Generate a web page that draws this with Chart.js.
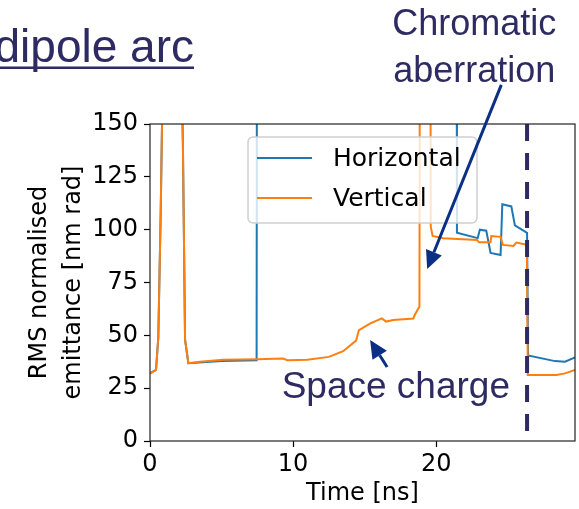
<!DOCTYPE html>
<html>
<head>
<meta charset="utf-8">
<script src="https://cdn.jsdelivr.net/npm/chart.js@4.4.1/dist/chart.umd.min.js"></script>
<style>
  html, body { margin: 0; padding: 0; background: #fff; }
  #wrap { width: 579px; height: 509px; }
</style>
</head>
<body>
<div id="wrap"><canvas id="emitCanvas" width="579" height="509"></canvas></div>
<script>
// tick positions
const xTicks = [0, 10, 20];
const yTicks = [0, 25, 50, 75, 100, 125, 150];

// horizontal emittance along the arc
const hTime = [0, 0.42, 0.58, 0.75, 1.5, 2.3, 2.45, 2.68, 5.0, 7.45, 7.5, 21.4, 21.45, 22.9, 23.05, 23.5, 23.8, 24.5, 24.62, 25.25, 25.5, 26.35, 26.42, 28.3, 29.0, 29.7];
const hEmit = [32, 33.6, 49, 109, 450, 140, 48, 36.8, 37.8, 38.2, 400, 400, 98.5, 96, 100, 99.5, 89, 88, 112, 111, 102, 98.5, 40.5, 37.8, 37.5, 39.5];

// vertical emittance along the arc
const vTime = [0, 0.42, 0.58, 0.75, 1.5, 2.3, 2.45, 2.68, 3.5, 5.1, 7.5, 9.3, 9.6, 11.0, 12.5, 13.5, 14.4, 14.6, 15.4, 16.2, 16.5, 17.0, 18.4, 18.5, 18.83, 18.9, 19.55, 19.62, 19.75, 20.5, 22.85, 23.0, 23.8, 23.85, 24.5, 24.66, 25.4, 25.6, 26.34, 26.4, 28.4, 29.0, 29.7];
const vEmit = [32, 33.6, 49, 109, 450, 140, 48, 36.8, 37.5, 38.4, 38.7, 39.0, 38.2, 38.5, 39.8, 42.5, 47.5, 52.5, 55.7, 58, 56.5, 57.3, 58, 59.6, 63.6, 400, 400, 101.4, 97, 95.9, 95.1, 94, 94, 97, 96.6, 92.8, 92.3, 93.9, 92.8, 31.2, 31.2, 32, 33.6];

// end of the dipole arc
const arcEndTime = [26.35, 26.35];
const arcEndEmit = [150, 0];

const navyText = '#2d2b61';
const arrowBlue = '#0b2f84';

function points(xs, ys) {
  return xs.map((x, i) => ({ x: x, y: ys[i] }));
}

function arrow(ctx, x1, y1, x2, y2) {
  const ang = Math.atan2(y2 - y1, x2 - x1);
  const head = 18, half = 8.5;
  const bx = x2 - head * Math.cos(ang), by = y2 - head * Math.sin(ang);
  ctx.strokeStyle = arrowBlue;
  ctx.lineWidth = 3;
  ctx.beginPath();
  ctx.moveTo(x1, y1);
  ctx.lineTo(bx, by);
  ctx.stroke();
  ctx.fillStyle = arrowBlue;
  ctx.beginPath();
  ctx.moveTo(x2, y2);
  ctx.lineTo(bx + half * Math.sin(ang), by - half * Math.cos(ang));
  ctx.lineTo(bx - half * Math.sin(ang), by + half * Math.cos(ang));
  ctx.closePath();
  ctx.fill();
}

// axes frame + legend box inside the plot
const frameAndLegend = {
  id: 'frameAndLegend',
  afterDatasetsDraw(chart) {
    const { ctx, chartArea: a } = chart;
    ctx.save();
    ctx.strokeStyle = '#222';
    ctx.lineWidth = 1.2;
    ctx.strokeRect(a.left, a.top, a.right - a.left, a.bottom - a.top);

    const bx = a.left + 98, by = a.top + 13, bw = 229, bh = 86;
    ctx.beginPath();
    ctx.roundRect(bx, by, bw, bh, 5);
    ctx.fillStyle = 'rgba(255,255,255,0.8)';
    ctx.fill();
    ctx.strokeStyle = '#d0d0d0';
    ctx.lineWidth = 1.5;
    ctx.stroke();

    const items = chart.data.datasets.filter(d => d.inLegend);
    ctx.font = '25px "DejaVu Sans"';
    ctx.textBaseline = 'middle';
    ctx.textAlign = 'left';
    items.forEach((d, i) => {
      const ly = by + 21 + i * 40;
      ctx.strokeStyle = d.borderColor;
      ctx.lineWidth = 2;
      ctx.beginPath();
      ctx.moveTo(bx + 9, ly);
      ctx.lineTo(bx + 64, ly);
      ctx.stroke();
      ctx.fillStyle = '#000';
      ctx.fillText(d.label, bx + 85, ly + 1);
    });
    ctx.restore();
  },
  afterDraw(chart) {
    const { ctx } = chart;
    const X = v => chart.scales.x.getPixelForValue(v);
    const Y = v => chart.scales.y.getPixelForValue(v);
    ctx.save();

    // heading
    ctx.fillStyle = navyText;
    ctx.font = '46px "Liberation Sans"';
    ctx.textAlign = 'left';
    ctx.textBaseline = 'alphabetic';
    ctx.fillText('dipole arc', -5.5, 61.5);
    ctx.fillRect(0, 66.5, 194, 2.5);

    // labels
    ctx.font = '36px "Liberation Sans"';
    ctx.textAlign = 'center';
    ctx.fillText('Chromatic', X(22.66), Y(192.1));
    ctx.fillText('aberration', X(22.66), Y(170.0));
    ctx.font = '37px "Liberation Sans"';
    ctx.textAlign = 'left';
    ctx.fillText('Space charge', X(9.2), Y(20.35));

    arrow(ctx, X(24.55), Y(168.5), X(19.37), Y(81.4));
    arrow(ctx, X(16.57), Y(35), X(15.38), Y(47.8));
    ctx.restore();
  }
};

new Chart(document.getElementById('emitCanvas'), {
  type: 'line',
  data: {
    datasets: [
      {
        label: 'Horizontal',
        inLegend: true,
        data: points(hTime, hEmit),
        borderColor: '#1f77b4',
        borderWidth: 2,
        pointRadius: 0,
        tension: 0,
        order: 3
      },
      {
        label: 'Vertical',
        inLegend: true,
        data: points(vTime, vEmit),
        borderColor: '#ff7f0e',
        borderWidth: 2,
        pointRadius: 0,
        tension: 0,
        order: 2
      },
      {
        label: 'arc end',
        data: points(arcEndTime, arcEndEmit),
        borderColor: '#2e2b64',
        borderWidth: 4,
        borderDash: [17, 12],
        pointRadius: 0,
        order: 1
      }
    ]
  },
  options: {
    responsive: false,
    animation: false,
    devicePixelRatio: 1,
    layout: {
      padding: { top: 124, right: 4, left: 0, bottom: 0 }
    },
    scales: {
      x: {
        type: 'linear',
        min: 0,
        max: 29.7,
        afterBuildTicks: s => { s.ticks = xTicks.map(v => ({ value: v })); },
        afterFit: s => { s.height = 68; },
        border: { display: false },
        grid: {
          drawOnChartArea: false,
          drawTicks: true,
          tickLength: 6,
          color: '#000',
          tickWidth: 1.2
        },
        ticks: {
          color: '#000',
          padding: 3,
          maxRotation: 0,
          font: { family: 'DejaVu Sans', size: 24 }
        },
        title: {
          display: true,
          text: 'Time [ns]',
          color: '#000',
          font: { family: 'DejaVu Sans', size: 24, lineHeight: 1.2 },
          padding: { top: 0, bottom: 1 }
        }
      },
      y: {
        min: 0,
        max: 150,
        afterBuildTicks: s => { s.ticks = yTicks.map(v => ({ value: v })); },
        afterFit: s => { s.width = 150; },
        border: { display: false },
        grid: {
          drawOnChartArea: false,
          drawTicks: true,
          tickLength: 6,
          color: '#000',
          tickWidth: 1.2
        },
        ticks: {
          color: '#000',
          padding: 6,
          font: { family: 'DejaVu Sans', size: 24 }
        },
        title: {
          display: true,
          text: ['RMS normalised', 'emittance [nm rad]'],
          color: '#000',
          font: { family: 'DejaVu Sans', size: 24, lineHeight: 34 / 24 },
          padding: { top: 23, bottom: 0 }
        }
      }
    },
    plugins: {
      legend: { display: false },
      tooltip: { enabled: false }
    }
  },
  plugins: [frameAndLegend]
});
</script>
</body>
</html>
